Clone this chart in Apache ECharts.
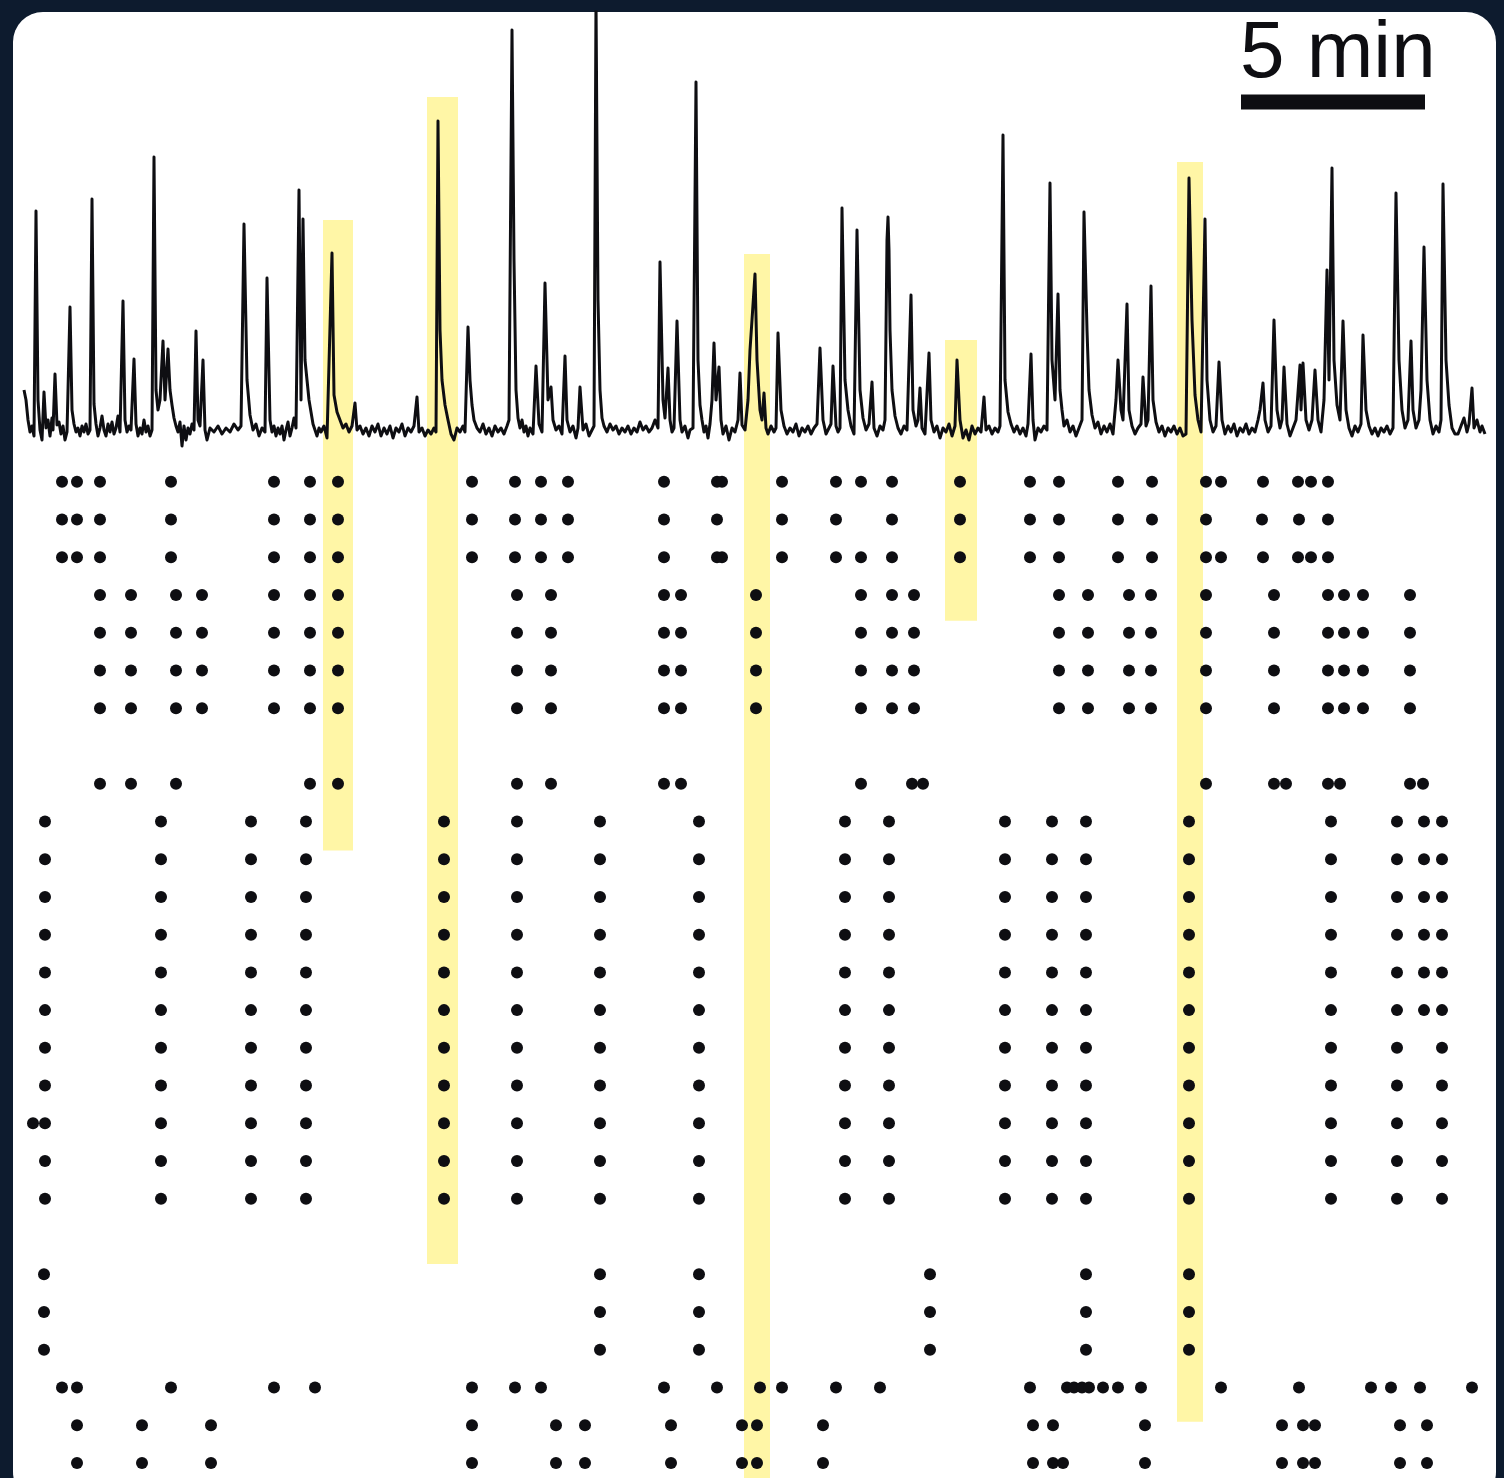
<!DOCTYPE html>
<html>
<head>
<meta charset="utf-8">
<style>
  html, body { margin: 0; padding: 0; background: #0d1b2e; }
  #chart { width: 1504px; height: 1478px; }
</style>
<script src="https://cdn.jsdelivr.net/npm/echarts@6/dist/echarts.min.js"></script>
</head>
<body>
<div id="chart"></div>
<script>
// Time base: imaging frames (~1.63 s each), 184 frames = 5 min.
const FRAME_COUNT = 1461;
const SCALE_BAR_START = 1217;
const SCALE_BAR_FRAMES = 184;     // 5 min
const SCALE_BAR_LEVEL = 328;      // height of the bar, in trace units
const SCALE_BAR_LABEL = '5 min';

// Population fluorescence trace: [frame, dF/F (%)]
const trace = [
  [0,40],[2,30],[4,10],[6,-2],[8,4],[10,-6],[12,219],[14,30],[16,0],[18,-10],[20,38],[22,2],[24,10],[26,-6],[28,12],[29,0],
  [31,56],[33,5],[35,8],[37,-4],[39,4],[41,-10],[43,-2],[46,123],[48,20],[50,6],[52,-2],[54,2],[56,-6],[58,4],[60,-2],[62,6],
  [64,-4],[66,0],[68,231],[70,26],[72,6],[74,-6],[76,2],[78,14],[80,0],[82,-6],[84,6],[86,-2],[88,8],[90,-4],[92,2],[94,14],
  [96,-2],[99,129],[101,10],[103,-2],[105,4],[107,0],[110,71],[112,6],[114,-6],[116,2],[118,-4],[120,10],[122,-2],[124,4],
  [126,-6],[128,0],[130,273],[132,40],[134,20],[136,30],[139,89],[141,30],[144,81],[146,40],[148,25],[150,12],[152,4],[154,-2],
  [156,8],[158,-16],[160,4],[162,-10],[164,2],[166,-4],[168,6],[170,0],[172,99],[174,10],[176,4],[179,70],[181,0],[183,-10],
  [186,2],[190,-2],[194,4],[198,-4],[202,2],[206,-2],[210,6],[214,0],[217,4],[220,206],[223,50],[226,15],[229,0],[232,6],
  [235,-6],[238,2],[241,-2],[243,152],[246,10],[248,-2],[250,4],[252,-6],[254,2],[256,-4],[258,4],[260,-10],[262,0],[264,8],
  [266,-6],[268,2],[270,12],[272,2],[275,240],[277,30],[279,211],[281,70],[283,50],[285,30],[287,18],[289,6],[291,0],[293,-6],
  [295,2],[297,-2],[300,4],[303,-8],[305,-6],[308,177],[310,35],[313,18],[316,10],[319,2],[322,6],[325,-2],[328,4],[331,27],
  [333,0],[336,4],[339,-4],[342,2],[345,-6],[348,4],[351,-2],[354,6],[357,-6],[360,2],[363,-4],[366,4],[369,-8],[372,2],
  [375,-2],[378,6],[381,-6],[384,2],[387,-2],[390,4],[393,33],[395,-2],[398,2],[401,-6],[404,0],[407,-4],[410,2],[412,-2],
  [414,309],[416,100],[418,50],[421,25],[424,10],[427,-4],[430,-10],[433,2],[436,-2],[439,4],[441,-2],[444,103],[446,50],
  [448,25],[450,10],[453,2],[456,-2],[459,6],[462,-4],[465,2],[468,-6],[471,4],[474,-2],[477,2],[480,-4],[483,4],[485,10],
  [488,400],[490,170],[492,40],[494,12],[496,2],[498,10],[500,-2],[502,4],[504,-6],[506,2],[509,-4],[512,64],[515,6],[518,-2],
  [521,147],[524,30],[527,43],[529,10],[532,0],[535,4],[538,-4],[541,74],[543,10],[546,-2],[549,4],[552,-8],[554,2],[556,43],
  [559,0],[562,6],[565,-6],[568,0],[570,4],[572,430],[574,130],[576,40],[578,12],[580,4],[583,-2],[586,6],[589,0],[592,4],
  [595,-4],[598,2],[601,-2],[604,4],[607,-4],[610,2],[613,-2],[616,8],[619,0],[622,4],[625,-2],[628,2],[631,10],[634,2],
  [636,168],[639,30],[641,12],[644,62],[646,10],[648,-2],[650,2],[653,109],[656,10],[658,-2],[661,4],[664,-8],[666,0],[669,2],
  [672,348],[674,70],[676,25],[678,10],[680,-2],[682,4],[684,-8],[686,6],[688,30],[690,87],[692,30],[695,63],[697,10],[699,-4],
  [702,4],[705,-10],[708,2],[711,-2],[714,10],[716,57],[718,5],[721,0],[724,30],[726,80],[728,110],[731,156],[733,70],[736,20],
  [738,10],[740,37],[742,2],[744,-4],[747,4],[750,-2],[752,2],[754,97],[757,20],[760,4],[763,-4],[766,2],[769,-2],[772,6],
  [775,-6],[778,2],[781,-2],[784,4],[787,-4],[790,2],[793,6],[796,82],[799,10],[802,-4],[805,2],[807,6],[809,64],[812,4],
  [814,-2],[816,2],[818,222],[821,50],[824,20],[827,4],[830,-4],[833,200],[836,40],[839,12],[842,0],[845,6],[848,48],[850,2],
  [853,-6],[856,4],[859,0],[861,10],[862,100],[863,190],[864,213],[865,180],[866,100],[868,40],[871,14],[874,2],[877,-4],
  [880,4],[883,0],[887,135],[889,20],[892,4],[894,10],[896,42],[898,2],[901,-4],[905,77],[907,10],[910,-2],[913,4],[916,-8],
  [919,2],[922,-2],[925,6],[928,-6],[931,4],[933,70],[936,10],[939,-8],[942,0],[945,-10],[948,4],[951,-4],[954,2],[957,-2],
  [960,33],[962,0],[965,4],[968,-4],[971,2],[974,-2],[976,4],[979,295],[981,50],[984,18],[987,6],[990,-2],[993,4],[996,-4],
  [999,2],[1002,-6],[1004,6],[1007,76],[1009,10],[1011,-10],[1014,2],[1017,-2],[1020,4],[1023,0],[1026,247],[1028,70],
  [1031,30],[1034,136],[1036,40],[1038,20],[1040,4],[1043,10],[1046,-2],[1049,4],[1052,-6],[1055,2],[1058,10],[1060,218],
  [1063,100],[1065,40],[1068,15],[1071,2],[1074,8],[1077,-4],[1080,4],[1083,-2],[1086,6],[1089,-4],[1092,30],[1094,70],
  [1097,20],[1099,10],[1103,126],[1105,20],[1108,4],[1111,-4],[1114,2],[1117,6],[1119,53],[1122,4],[1124,10],[1127,144],
  [1129,30],[1132,8],[1135,-2],[1138,4],[1141,-6],[1144,2],[1147,-2],[1150,4],[1153,-4],[1156,2],[1159,-6],[1162,-4],
  [1165,252],[1168,110],[1171,35],[1174,10],[1177,-2],[1179,-4],[1181,211],[1183,50],[1186,10],[1189,-2],[1192,4],[1195,68],
  [1198,10],[1201,-4],[1204,4],[1207,-2],[1210,6],[1213,-6],[1216,2],[1219,-2],[1222,6],[1225,-4],[1228,2],[1231,-2],
  [1234,10],[1236,20],[1239,47],[1241,10],[1244,-2],[1247,4],[1250,110],[1253,20],[1256,2],[1258,10],[1260,63],[1263,6],
  [1266,-6],[1269,2],[1272,10],[1276,65],[1277,20],[1279,67],[1282,10],[1285,0],[1288,10],[1291,60],[1294,10],[1297,-2],
  [1300,30],[1303,160],[1305,50],[1308,262],[1310,70],[1313,25],[1316,10],[1319,109],[1322,20],[1325,2],[1328,-6],[1331,4],
  [1334,-2],[1337,6],[1339,95],[1342,20],[1345,4],[1348,-4],[1351,2],[1354,-6],[1357,2],[1360,-2],[1363,4],[1366,-4],
  [1369,2],[1372,237],[1375,70],[1378,20],[1381,2],[1384,10],[1387,89],[1389,20],[1392,2],[1395,10],[1397,40],[1400,183],
  [1403,50],[1406,10],[1409,-4],[1412,4],[1415,-2],[1417,10],[1419,246],[1422,70],[1425,25],[1428,2],[1431,-4],[1434,-4],
  [1437,4],[1440,12],[1443,-2],[1445,6],[1448,42],[1450,2],[1453,10],[1456,-2],[1458,4],[1461,-4]
];

// Event onsets (frames) for each cell, top row first
const eventsA = [38,53,76,147,250,286,314,448,491,517,544,640,693,698,758,812,837,868,936,1006,1035,1094,1128,1182,1197,1239,1274,1287,1304];
const eventsB = [38,53,76,147,250,286,314,448,491,517,544,640,693,758,812,868,936,1006,1035,1094,1128,1182,1238,1275,1304];
const eventsC = [76,107,152,178,250,286,314,493,527,640,657,732,837,868,890,1035,1064,1105,1127,1182,1250,1304,1320,1339,1386];
const eventsD = [76,107,152,286,314,493,527,640,657,837,888,899,1182,1250,1262,1304,1316,1386,1399];
const eventsE = [21,137,227,282,420,493,576,675,821,865,981,1028,1062,1165,1307,1373,1400,1418];
const eventsF = [21,137,227,282,420,493,576,675,821,865,981,1028,1062,1165,1307,1373,1418];
const eventsG = [9,21,137,227,282,420,493,576,675,821,865,981,1028,1062,1165,1307,1373,1418];
const eventsH = [20,576,675,906,1062,1165];
const eventsI = [38,53,147,250,291,448,491,517,640,693,736,758,812,856,1006,1043,1050,1058,1065,1079,1094,1117,1197,1275,1347,1367,1396,1448];
const eventsJ = [53,118,187,448,532,561,647,718,733,799,1009,1029,1121,1258,1279,1291,1376,1403];
const eventsK = [53,118,187,448,532,561,647,718,733,799,1009,1029,1039,1121,1258,1279,1291,1376,1403];

const cellRows = [
  eventsA, eventsB, eventsA,
  eventsC, eventsC, eventsC, eventsC,
  [],
  eventsD,
  eventsE, eventsE, eventsE, eventsE, eventsE, eventsE,
  eventsF, eventsF, eventsG, eventsF, eventsF,
  [],
  eventsH, eventsH, eventsH,
  eventsI, eventsJ, eventsK
];

// Highlighted synchronous events: frame span, top (trace units), lower edge (row units)
const bandStart = [299, 403, 720, 921, 1153];
const bandEnd   = [329, 434, 746, 953, 1179];
const bandTop   = [210, 333, 176, 90, 268];
const bandLow   = [9.77, 20.73, 26.4, 3.68, 24.91];

const TRACE_MIN = -33, TRACE_MAX = 418;
const ROW_MIN = -0.5, ROW_MAX = 26.4;

const BAND_COLOR = '#fff6a6';
const INK = '#0e0e12';

const rasterData = [];
cellRows.forEach((row, r) => row.forEach(f => rasterData.push([f, r])));

const traceBands = bandStart.map((s, i) => [s, bandEnd[i], bandTop[i], TRACE_MIN]);
const rasterBands = bandStart.map((s, i) => [s, bandEnd[i], ROW_MIN, bandLow[i]]);

function bandRect(params, api) {
  const p0 = api.coord([api.value(0), api.value(2)]);
  const p1 = api.coord([api.value(1), api.value(3)]);
  const y0 = Math.min(p0[1], p1[1]);
  return {
    type: 'rect',
    shape: { x: p0[0], y: y0, width: p1[0] - p0[0], height: Math.abs(p1[1] - p0[1]) },
    style: { fill: BAND_COLOR }
  };
}

const chart = echarts.init(document.getElementById('chart'), null, { renderer: 'canvas' });
chart.setOption({
  animation: false,
  backgroundColor: '#0d1b2e',
  graphic: [
    { type: 'rect', z: -100, shape: { x: 13, y: 12, width: 1483, height: 1490, r: 30 }, style: { fill: '#ffffff' } },
    { type: 'text', z: 100, style: { x: 1240, y: 55, text: SCALE_BAR_LABEL, fill: INK,
        font: '80px "Liberation Sans", Arial, sans-serif', verticalAlign: 'middle', align: 'left' } }
  ],
  grid: [
    { left: 24, top: 12, width: 1461, height: 451 },
    { left: 24, top: 463, width: 1461, height: 1015 }
  ],
  xAxis: [
    { type: 'value', gridIndex: 0, min: 0, max: FRAME_COUNT, show: false },
    { type: 'value', gridIndex: 1, min: 0, max: FRAME_COUNT, show: false }
  ],
  yAxis: [
    { type: 'value', gridIndex: 0, min: TRACE_MIN, max: TRACE_MAX, show: false },
    { type: 'value', gridIndex: 1, min: ROW_MIN, max: ROW_MAX, inverse: true, show: false }
  ],
  series: [
    { type: 'custom', xAxisIndex: 0, yAxisIndex: 0, z: 0, silent: true, data: traceBands, renderItem: bandRect },
    { type: 'custom', xAxisIndex: 1, yAxisIndex: 1, z: 0, silent: true, data: rasterBands, renderItem: bandRect },
    {
      type: 'line', xAxisIndex: 0, yAxisIndex: 0, z: 3, data: trace, symbol: 'none',
      lineStyle: { color: INK, width: 3, join: 'round' }, clip: true
    },
    {
      type: 'line', xAxisIndex: 0, yAxisIndex: 0, z: 4, symbol: 'none',
      data: [[SCALE_BAR_START, SCALE_BAR_LEVEL], [SCALE_BAR_START + SCALE_BAR_FRAMES, SCALE_BAR_LEVEL]],
      lineStyle: { color: INK, width: 15, cap: 'butt' }
    },
    {
      type: 'scatter', xAxisIndex: 1, yAxisIndex: 1, z: 5, data: rasterData,
      symbol: 'circle', symbolSize: 12, itemStyle: { color: INK, opacity: 1 }
    }
  ]
});
</script>
</body>
</html>
